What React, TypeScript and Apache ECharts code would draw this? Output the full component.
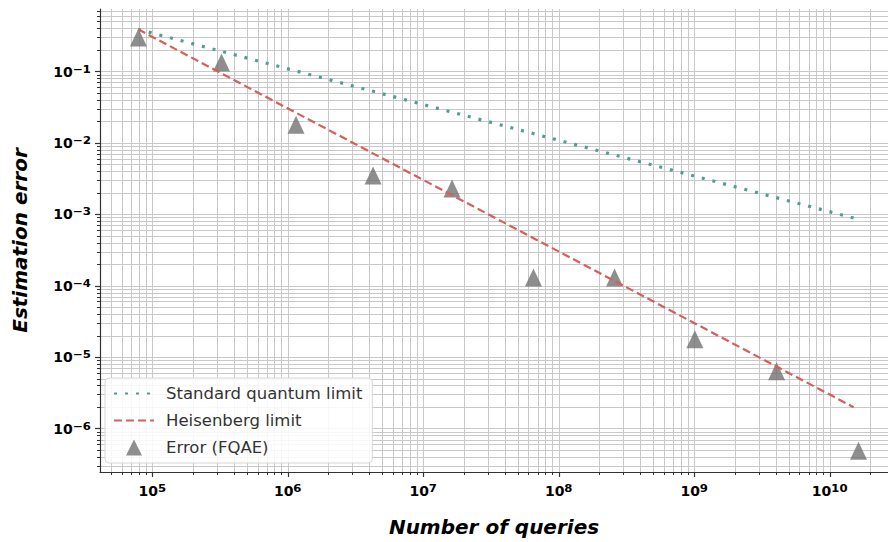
import React, { useEffect, useRef } from 'react';
import * as echarts from 'echarts';

// Standard quantum limit (two end points of the straight log-log line)
const sqlX = [7.85e4, 1.5e10];
const sqlY = [0.39, 8.9e-4];
// Heisenberg limit
const hlX = [7.85e4, 1.5e10];
const hlY = [0.39, 2.0e-6];
// Error (FQAE)
const fqaeX = [7.9e4, 3.24e5, 1.15e6, 4.26e6, 1.63e7, 6.5e7, 2.58e8, 1.01e9, 4.05e9, 1.63e10];
const fqaeY = [0.3, 0.134, 0.018, 3.5e-3, 2.3e-3, 1.31e-4, 1.31e-4, 1.79e-5, 6.4e-6, 4.9e-7];

const xMajor = [1e5, 1e6, 1e7, 1e8, 1e9, 1e10];
const xTickBase = ['10', '10', '10', '10', '10', '10'];
const xTickExp = ['⁵', '⁶', '⁷', '⁸', '⁹', '¹⁰'];
const yMajor = [1e-6, 1e-5, 1e-4, 1e-3, 1e-2, 1e-1];
const yTickBase = ['10', '10', '10', '10', '10', '10'];
const yTickExp = ['⁻⁶', '⁻⁵', '⁻⁴', '⁻³', '⁻²', '⁻¹'];

const xMin = 4.11e4;
const xMax = 2.69e10;
const yMin = 2.48e-7;
const yMax = 0.751;

const minorMultipliers = [2, 3, 4, 5, 6, 7, 8, 9];
const xDecades = [1e4, 1e5, 1e6, 1e7, 1e8, 1e9, 1e10];
const yDecades = [1e-7, 1e-6, 1e-5, 1e-4, 1e-3, 1e-2, 1e-1];

function minorTicks(decades: number[], lo: number, hi: number) {
  const out: number[] = [];
  decades.forEach((d) => {
    minorMultipliers.forEach((m) => {
      const v = parseFloat((d * m).toPrecision(6));
      if (v > lo && v < hi) out.push(v);
    });
  });
  return out;
}

const xMinor = minorTicks(xDecades, xMin, xMax);
const yMinor = minorTicks(yDecades, yMin, yMax);

const FONT = 'DejaVu Sans';
const GRID_COLOR = '#c9c9c9';
const AXIS_COLOR = '#333333';
const SQL_COLOR = '#54999c';
const HL_COLOR = '#d65f5a';
const TRI_COLOR = '#727272';

function labelFor(v: number, majors: number[], base: string[], exp: string[]) {
  const e = Math.round(Math.log10(v));
  const i = majors.findIndex((m) => Math.round(Math.log10(m)) === e);
  return i >= 0 ? `{b|${base[i]}}{s|${exp[i]}}` : '';
}

const tickRich = {
  b: { fontFamily: FONT, fontSize: 14, fontWeight: 'bold', color: '#000' },
  s: { fontFamily: FONT, fontSize: 19, fontWeight: 'bold', color: '#000' },
};

export default function App() {
  const ref = useRef<HTMLDivElement>(null);
  useEffect(() => {
    if (!ref.current) return;
    const chart = echarts.init(ref.current, undefined, { renderer: 'svg' });
    const hidden = { color: 'rgba(0,0,0,0)', borderWidth: 0, borderColor: 'rgba(0,0,0,0)' };
    chart.setOption({
      animation: false,
      backgroundColor: '#ffffff',
      grid: { left: 100, top: 9, right: 0, bottom: 69 },
      legend: {
        orient: 'vertical',
        left: 105,
        top: 378,
        backgroundColor: 'rgba(255,255,255,0.85)',
        borderColor: '#d6d6d6',
        borderWidth: 1,
        borderRadius: 4,
        padding: [7, 10, 7, 8],
        itemGap: 10,
        itemWidth: 40,
        itemHeight: 16,
        symbolKeepAspect: true,
        textStyle: { fontFamily: FONT, fontSize: 16.5, color: '#333', padding: [0, 0, 0, 7] },
        data: [
          { name: 'Standard quantum limit', itemStyle: hidden },
          { name: 'Heisenberg limit', itemStyle: hidden },
          { name: 'Error (FQAE)', icon: 'path://M8,0L16,16L0,16Z' },
        ],
      },
      xAxis: [
        {
          type: 'log',
          min: xMin,
          max: xMax,
          position: 'bottom',
          name: 'Number of queries',
          nameLocation: 'middle',
          nameGap: 45,
          nameTextStyle: { fontFamily: FONT, fontSize: 20, fontStyle: 'italic', fontWeight: 'bold', color: '#000' },
          axisLine: { show: true, lineStyle: { color: AXIS_COLOR, width: 1.2 } },
          axisTick: { show: true, customValues: xMajor, length: 5, lineStyle: { color: AXIS_COLOR, width: 1.2 } },
          axisLabel: {
            show: true,
            customValues: xMajor,
            margin: 9,
            rich: tickRich,
            formatter: (v: number) => labelFor(v, xMajor, xTickBase, xTickExp),
          },
          splitLine: { show: true, lineStyle: { color: GRID_COLOR, width: 1 } },
        },
        {
          type: 'log',
          min: xMin,
          max: xMax,
          position: 'bottom',
          axisLine: { show: false },
          axisTick: { show: true, customValues: xMinor, length: 3, lineStyle: { color: AXIS_COLOR, width: 1 } },
          axisLabel: { show: false },
          splitLine: { show: true, lineStyle: { color: GRID_COLOR, width: 1 } },
        },
      ],
      yAxis: [
        {
          type: 'log',
          min: yMin,
          max: yMax,
          position: 'left',
          name: 'Estimation error',
          nameLocation: 'middle',
          nameGap: 70,
          nameTextStyle: { fontFamily: FONT, fontSize: 20, fontStyle: 'italic', fontWeight: 'bold', color: '#000' },
          axisLine: { show: true, lineStyle: { color: AXIS_COLOR, width: 1.2 } },
          axisTick: { show: true, customValues: yMajor, length: 5, lineStyle: { color: AXIS_COLOR, width: 1.2 } },
          axisLabel: {
            show: true,
            customValues: yMajor,
            margin: 9,
            rich: tickRich,
            formatter: (v: number) => labelFor(v, yMajor, yTickBase, yTickExp),
          },
          splitLine: { show: true, lineStyle: { color: GRID_COLOR, width: 1 } },
        },
        {
          type: 'log',
          min: yMin,
          max: yMax,
          position: 'left',
          axisLine: { show: false },
          axisTick: { show: true, customValues: yMinor, length: 3, lineStyle: { color: AXIS_COLOR, width: 1 } },
          axisLabel: { show: false },
          splitLine: { show: true, lineStyle: { color: GRID_COLOR, width: 1 } },
        },
      ],
      series: [
        {
          name: 'Standard quantum limit',
          type: 'line',
          xAxisIndex: 0,
          yAxisIndex: 0,
          symbol: 'circle',
          showSymbol: false,
          z: 3,
          data: sqlX.map((x, i) => [x, sqlY[i]]),
          lineStyle: { color: SQL_COLOR, width: 3.2, type: [3, 8] },
          itemStyle: hidden,
        },
        {
          name: 'Heisenberg limit',
          type: 'line',
          xAxisIndex: 0,
          yAxisIndex: 0,
          symbol: 'circle',
          showSymbol: false,
          z: 3,
          data: hlX.map((x, i) => [x, hlY[i]]),
          lineStyle: { color: HL_COLOR, width: 2.2, type: [8, 4] },
          itemStyle: hidden,
        },
        {
          name: 'Error (FQAE)',
          type: 'scatter',
          xAxisIndex: 0,
          yAxisIndex: 0,
          symbol: 'triangle',
          symbolSize: [17, 18],
          z: 2,
          data: fqaeX.map((x, i) => [x, fqaeY[i]]),
          itemStyle: { color: TRI_COLOR },
        },
      ],
    });
    return () => chart.dispose();
  }, []);
  return <div ref={ref} style={{ width: 888, height: 542, position: 'absolute', left: 0, top: 0 }} />;
}
